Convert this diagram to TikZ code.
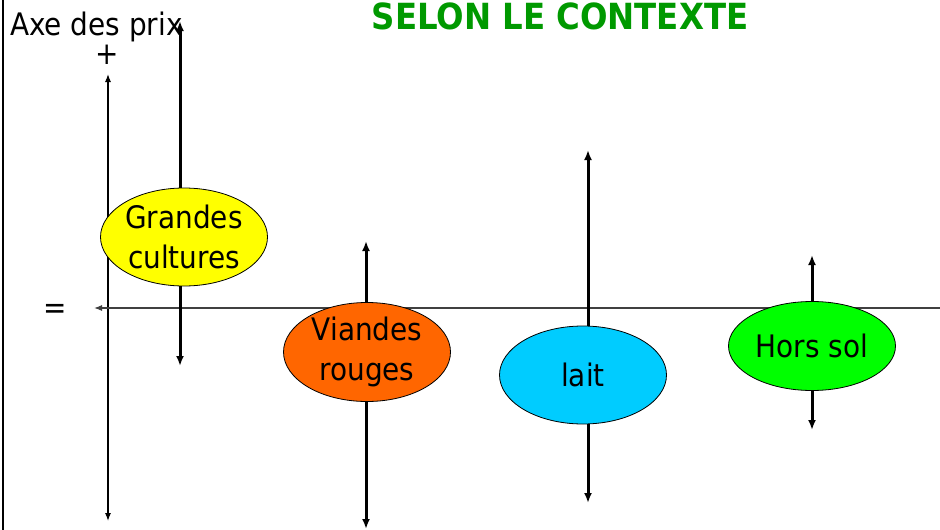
\documentclass[tikz,border=0pt]{standalone}
\usepackage{fontspec}
\setmainfont{DejaVu Sans Condensed}
\usetikzlibrary{shapes.geometric,arrows.meta}
\definecolor{titlegreen}{RGB}{0,153,0}
\definecolor{gcyellow}{RGB}{255,255,0}
\definecolor{vrorange}{RGB}{255,102,0}
\definecolor{lacyan}{RGB}{0,204,255}
\definecolor{hsgreen}{RGB}{0,255,0}

\begin{document}
\begin{tikzpicture}[x=1pt, y=-1pt]
\tikzstyle{prod}=[ellipse, draw, line width=0.8pt, minimum width=167pt, minimum height=98pt,
                        inner sep=0pt, align=center, font=\fontsize{31}{40}\selectfont]
\tikzstyle{pricerange}=[line width=3pt, {Latex[length=10pt,width=8pt]}-{Latex[length=10pt,width=8pt]}]
\tikzstyle{lbl}=[inner sep=0pt, font=\fontsize{31}{37}\selectfont]
\useasboundingbox (0,0) rectangle (940,530);
\draw[line width=2.2pt] (3,0) -- (3,530);
\node[lbl, anchor=base, text=titlegreen, font=\bfseries\fontsize{36}{43}\selectfont] (title) at (560,29) {SELON LE CONTEXTE};
\node[lbl, anchor=base west] (axe) at (10,35) {Axe des prix};
\node[lbl] (plus) at (107,55) {+};
\node[lbl] (eq) at (55,311) {=};
% axes
\coordinate (ptop) at (108,74);
\coordinate (pbot) at (108,521);
\coordinate (hright) at (940,308);
\coordinate (hleft) at (94,308);
\draw[line width=1.1pt, {Latex[length=8pt,width=6pt]}-{Latex[length=8pt,width=6pt]}] (ptop) -- (pbot);
\draw[line width=1.1pt, black!75, -{Latex[length=8pt,width=6pt]}] (hright) -- (hleft);
\foreach \n/\x/\a/\b in {gc/180/21/366, vr/366/241/529, la/588/150/503, hs/812/255/430}{
  \coordinate (\n-top) at (\x,\a);
  \coordinate (\n-bot) at (\x,\b);
  \draw[pricerange] (\n-top) -- (\n-bot);}
\node[prod, fill=gcyellow] (gc) at (184,237) {Grandes\\cultures};
\node[prod, fill=vrorange] (vr) at (367,352) {Viandes\\rouges};
\node[prod, fill=lacyan] (la) at (583,375) {lait};
\node[prod, fill=hsgreen, minimum height=89pt] (hs) at (812,346) {Hors sol};
\end{tikzpicture}
\end{document}
